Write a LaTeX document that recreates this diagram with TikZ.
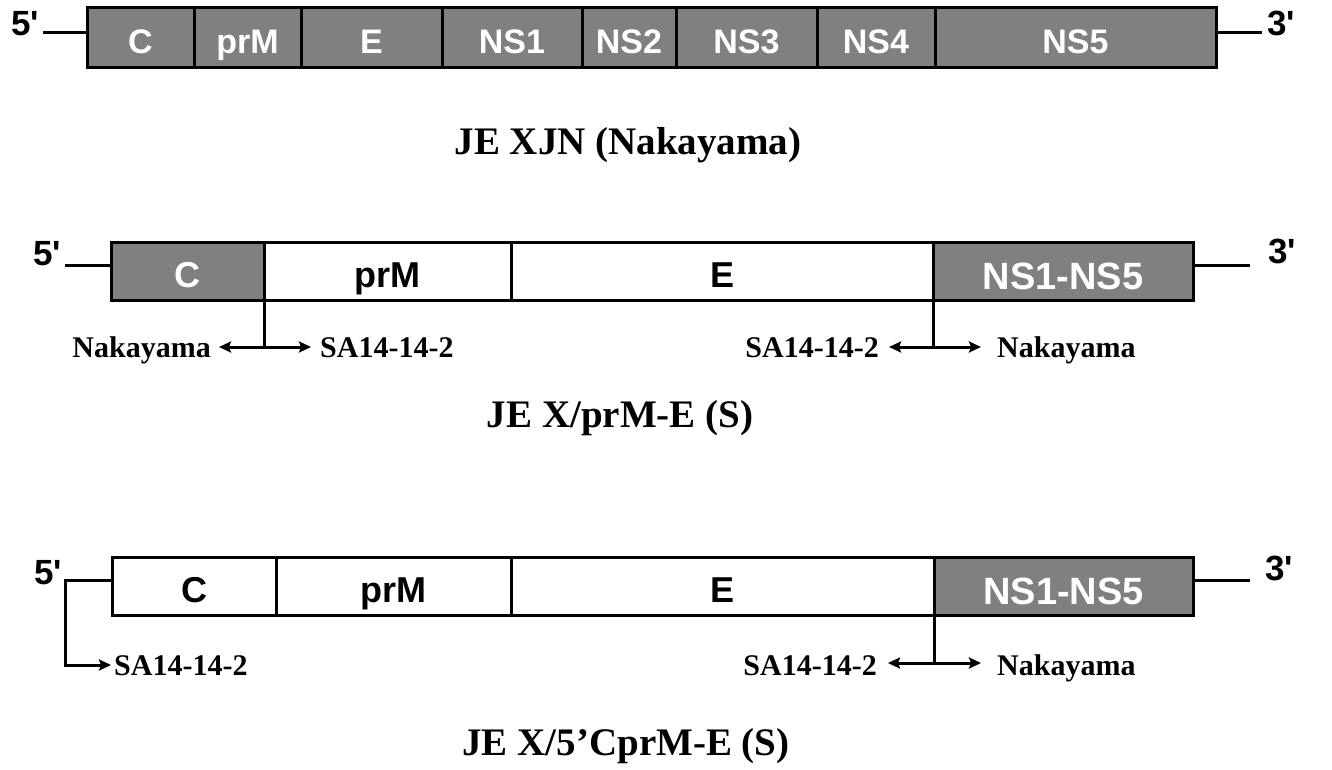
\documentclass[tikz,border=0pt]{standalone}
\usepackage{fontspec}
\setmainfont{Liberation Serif}
\newfontfamily\arialfont{Liberation Sans}
\usetikzlibrary{arrows.meta}

\definecolor{segGray}{RGB}{128,128,128}

% text height = cap height + twice the downward offset of the label
\tikzset{
  seg/.style={draw=black, line width=3pt, inner sep=0pt, outer sep=0pt,
              font=\arialfont\bfseries, text depth=0pt},
  dark/.style={fill=segGray, text=white},
  light/.style={fill=white, text=black},
  topseg/.style={seg, minimum height=60pt, text height=32pt,
                 font=\arialfont\bfseries\fontsize{34}{38}\selectfont},
  midseg/.style={seg, minimum height=58pt, text height=32pt,
                 font=\arialfont\bfseries\fontsize{36}{40}\selectfont},
  bigseg/.style={midseg, text height=36pt,
                 font=\arialfont\bfseries\fontsize{38}{42}\selectfont},
  wire/.style={line width=3pt},
  tip/.style={wire, -{Stealth[length=12pt, width=11pt, inset=2pt]}},
  endlabel/.style={inner sep=0pt, font=\arialfont\bfseries\fontsize{35}{40}\selectfont},
  strain/.style={inner sep=0pt, font=\bfseries\fontsize{30}{34}\selectfont},
  caption/.style={inner sep=0pt, anchor=base, font=\bfseries\fontsize{39}{45}\selectfont},
}

\begin{document}
\begin{tikzpicture}[x=1pt, y=-1pt]
\useasboundingbox (0,0) rectangle (1332,770);

% ---------- JE XJN (Nakayama): full genome ----------
\node[topseg, dark, minimum width=107pt] (a1) at (140.5,38) {C};
\node[topseg, dark, minimum width=107pt] (a2) at (247.5,38) {prM};
\node[topseg, dark, minimum width=141pt] (a3) at (371.5,38) {E};
\node[topseg, dark, minimum width=140pt] (a4) at (512,38) {NS1};
\node[topseg, dark, minimum width=94pt]  (a5) at (629,38) {NS2};
\node[topseg, dark, minimum width=141pt] (a6) at (746.5,38) {NS3};
\node[topseg, dark, minimum width=118pt] (a7) at (876,38) {NS4};
\node[topseg, dark, minimum width=281pt] (a8) at (1075.5,38) {NS5};

\coordinate (a5end) at (43,33);
\coordinate (a3end) at (1262,33);
\draw[wire] (a5end) -- (a5end -| a1.west);
\draw[wire] (a3end -| a8.east) -- (a3end);
\node[endlabel, anchor=base east] (a5p) at (39,36) {5'};
\node[endlabel, anchor=base west] (a3p) at (1267,36) {3'};

\node[caption] (cap1) at (628,155) {JE XJN (Nakayama)};

% ---------- JE X/prM-E (S) ----------
\node[midseg, dark,  minimum width=153pt] (b1) at (187.5,271) {C};
\node[midseg, light, minimum width=247pt] (b2) at (387.5,271) {prM};
\node[midseg, light, minimum width=422pt] (b3) at (722,271) {E};
\node[bigseg, dark,  minimum width=260pt] (b4) at (1063,271) {NS1-NS5};

\coordinate (b5end) at (65,265);
\coordinate (b3end) at (1250,265);
\draw[wire] (b5end) -- (b5end -| b1.west);
\draw[wire] (b3end -| b4.east) -- (b3end);
\node[endlabel, anchor=base east] (b5p) at (61,265) {5'};
\node[endlabel, anchor=base west] (b3p) at (1268,263) {3'};

% junction C | prM
\coordinate (bj1) at (264,347);
\coordinate (bj1l) at (219,347);
\coordinate (bj1r) at (311,347);
\draw[wire] (b1.south east) -- (bj1);
\draw[tip] (bj1) -- (bj1l);
\draw[tip] (bj1) -- (bj1r);
\node[strain, anchor=base east] (bn1) at (211,357) {Nakayama};
\node[strain, anchor=base west] (bs1) at (320,357) {SA14-14-2};

% junction E | NS1
\coordinate (bj2) at (933,347);
\coordinate (bj2l) at (889,347);
\coordinate (bj2r) at (981,347);
\draw[wire] (b4.south west) -- (bj2);
\draw[tip] (bj2) -- (bj2l);
\draw[tip] (bj2) -- (bj2r);
\node[strain, anchor=base east] (bs2) at (879,357) {SA14-14-2};
\node[strain, anchor=base west] (bn2) at (997,357) {Nakayama};

\node[caption] (cap2) at (620,427) {JE X/prM-E (S)};

% ---------- JE X/5'CprM-E (S) ----------
\node[midseg, light, minimum width=164pt] (c1) at (194,586) {C};
\node[midseg, light, minimum width=235pt] (c2) at (393.5,586) {prM};
\node[midseg, light, minimum width=423pt] (c3) at (722.5,586) {E};
\node[bigseg, dark,  minimum width=259pt] (c4) at (1063.5,586) {NS1-NS5};

\coordinate (c5end) at (65,580);
\coordinate (c5low) at (65,665);
\coordinate (c5tip) at (111,665);
\coordinate (c3end) at (1250,580);
\draw[tip] (c5end -| c1.west) -- (c5end) -- (c5low) -- (c5tip);
\draw[wire] (c3end -| c4.east) -- (c3end);
\node[endlabel, anchor=base east] (c5p) at (62,584) {5'};
\node[endlabel, anchor=base west] (c3p) at (1265,580) {3'};
\node[strain, anchor=base west] (cs1) at (114,675) {SA14-14-2};

% junction E | NS1
\coordinate (cj2) at (934,663);
\coordinate (cj2l) at (888,663);
\coordinate (cj2r) at (981,663);
\draw[wire] (c4.south west) -- (cj2);
\draw[tip] (cj2) -- (cj2l);
\draw[tip] (cj2) -- (cj2r);
\node[strain, anchor=base east] (cs2) at (877,675) {SA14-14-2};
\node[strain, anchor=base west] (cn2) at (997,675) {Nakayama};

\node[caption] (cap3) at (626,755) {JE X/5’CprM-E (S)};
\end{tikzpicture}
\end{document}
